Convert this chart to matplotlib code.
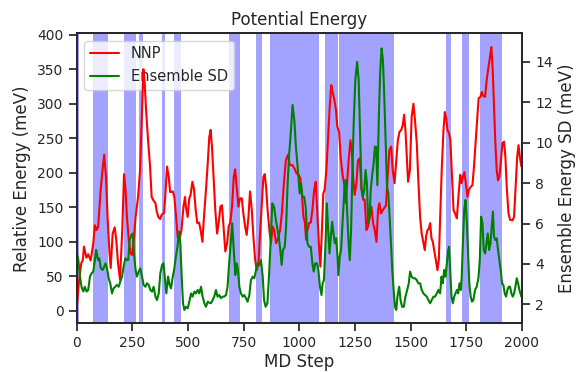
import numpy as np
import matplotlib
matplotlib.use("Agg")
import matplotlib.pyplot as plt
import seaborn as sns

# NNP relative energy (meV)
nnp_step = [0, 10, 21, 28, 33, 44, 52, 63, 75, 82, 90, 97, 108, 117, 124, 132, 139, 147, 153, 162,
            171, 178, 186, 195, 205, 213, 220, 226, 235, 243, 250, 258, 265, 276, 285, 292, 300, 306,
            312, 321, 330, 337, 345, 354, 360, 367, 375, 382, 393, 399, 406, 414, 420, 432, 439, 447,
            454, 462, 471, 480, 487, 491, 499, 506, 512, 520, 527, 535, 542, 550, 557, 565, 572, 581,
            589, 596, 602, 608, 616, 623, 631, 638, 646, 653, 661, 668, 676, 683, 691, 698, 706, 712,
            719, 727, 734, 742, 749, 757, 764, 772, 779, 787, 794, 802, 809, 817, 824, 832, 839, 845,
            851, 858, 866, 873, 881, 888, 896, 905, 914, 922, 931, 940, 949, 958, 970, 979, 988, 997,
            1005, 1013, 1019, 1025, 1031, 1037, 1044, 1052, 1059, 1067, 1074, 1082, 1089, 1095, 1102,
            1108, 1114, 1122, 1129, 1137, 1144, 1150, 1158, 1165, 1171, 1179, 1186, 1194, 1201, 1209,
            1215, 1222, 1230, 1236, 1242, 1249, 1257, 1264, 1272, 1279, 1287, 1294, 1302, 1309, 1317,
            1324, 1332, 1339, 1347, 1354, 1360, 1368, 1375, 1382, 1390, 1398, 1405, 1413, 1420, 1428,
            1435, 1443, 1450, 1458, 1465, 1471, 1477, 1483, 1489, 1497, 1505, 1513, 1520, 1528, 1535,
            1543, 1550, 1558, 1564, 1570, 1576, 1582, 1588, 1594, 1600, 1606, 1613, 1621, 1627, 1633,
            1640, 1648, 1654, 1660, 1666, 1673, 1679, 1685, 1693, 1700, 1708, 1715, 1723, 1729, 1735,
            1742, 1748, 1756, 1762, 1771, 1778, 1785, 1791, 1799, 1806, 1814, 1820, 1827, 1835, 1842,
            1850, 1857, 1863, 1869, 1875, 1881, 1887, 1893, 1899, 1905, 1913, 1920, 1926, 1932, 1940,
            1947, 1958, 1965, 1973, 1979, 1985, 1991, 1998]
nnp_energy = [1.5, 40, 69, 74, 93, 77, 82, 73, 98, 124, 117, 122, 175, 206, 226, 194, 136, 88, 62, 112,
              121, 103, 69, 45, 117, 198, 175, 136, 100, 83, 81, 107, 136, 165, 204, 271, 350, 329,
              291, 247, 209, 165, 160, 156, 144, 136, 133, 139, 142, 170, 209, 194, 172, 173, 165, 136,
              107, 103, 117, 151, 165, 150, 136, 163, 168, 187, 177, 146, 127, 128, 117, 100, 136, 175,
              214, 252, 262, 238, 189, 146, 112, 127, 151, 153, 117, 86, 98, 122, 129, 151, 194, 205,
              180, 151, 163, 163, 141, 122, 110, 136, 173, 146, 108, 74, 59, 69, 112, 156, 194, 198,
              180, 146, 117, 98, 122, 117, 98, 105, 117, 141, 185, 218, 226, 211, 211, 206, 199, 197,
              192, 165, 136, 129, 103, 117, 127, 128, 146, 175, 187, 136, 93, 64, 117,
              170, 175, 204, 247, 296, 327, 317, 305, 291, 267, 259, 223, 199, 185, 156,
              185, 218, 247, 233, 194, 168, 185, 218, 221, 180, 161, 161, 117, 122, 136,
              151, 127, 117, 100, 146, 156, 141, 146, 149, 153, 199, 233, 238, 204, 185,
              214, 247, 259, 262, 269, 284, 262, 223, 187, 204, 281, 300, 276, 243, 189,
              136, 112, 98, 88, 108, 117, 119, 127, 105, 100, 88, 74, 59, 74, 136,
              204, 262, 288, 279, 262, 257, 247, 204, 146, 141, 134, 165, 197, 185, 194,
              201, 185, 165, 175, 180, 182, 209, 238, 276, 308, 310, 317, 311, 310, 334,
              353, 368, 382, 349, 296, 243, 204, 189, 194, 214, 243, 245, 223, 180, 141,
              132, 131, 136, 185, 223, 240, 223, 209]

# ensemble standard deviation (meV)
sd_step = [0, 8, 15, 22, 30, 37, 45, 52, 60, 67, 75, 82, 88, 96, 102, 109, 117, 124, 130, 138, 144,
           151, 159, 166, 174, 181, 189, 196, 204, 211, 219, 226, 232, 238, 246, 253, 259, 265, 271,
           279, 286, 294, 301, 309, 316, 324, 331, 339, 346, 354, 361, 369, 376, 384, 390, 396, 403,
           411, 418, 424, 432, 438, 446, 453, 460, 466, 472, 478, 484, 491, 499, 506, 514, 521, 529,
           536, 544, 551, 559, 566, 574, 581, 589, 596, 603, 611, 618, 626, 633, 641, 648, 656, 663,
           671, 678, 684, 692, 699, 705, 713, 719, 725, 731, 738, 746, 753, 761, 768, 776, 783, 791,
           798, 806, 813, 821, 828, 836, 842, 849, 857, 864, 872, 879, 887, 893, 900, 908, 915, 921,
           927, 935, 941, 948, 955, 963, 970, 978, 985, 994, 1002, 1008, 1014, 1022, 1029, 1037,
           1044, 1052, 1059, 1065, 1072, 1080, 1086, 1093, 1100, 1105, 1111, 1118, 1124, 1130, 1136,
           1142, 1148, 1154, 1160, 1166, 1172, 1176, 1182, 1188, 1196, 1203, 1209, 1215, 1221, 1227,
           1233, 1239, 1245, 1252, 1260, 1267, 1273, 1280, 1286, 1292, 1298, 1304, 1310, 1316, 1321,
           1327, 1334, 1340, 1345, 1351, 1358, 1364, 1370, 1376, 1381, 1388, 1394, 1400, 1406, 1412,
           1418, 1424, 1430, 1436, 1441, 1449, 1455, 1462, 1470, 1477, 1485, 1492, 1498, 1505, 1513,
           1520, 1528, 1535, 1543, 1550, 1558, 1565, 1573, 1580, 1588, 1595, 1603, 1610, 1618, 1625,
           1633, 1639, 1645, 1651, 1657, 1663, 1669, 1673, 1678, 1684, 1690, 1696, 1702, 1708, 1714,
           1720, 1726, 1730, 1735, 1741, 1747, 1753, 1759, 1764, 1770, 1776, 1782, 1790, 1797, 1805,
           1811, 1817, 1823, 1829, 1835, 1841, 1847, 1853, 1859, 1865, 1870, 1875, 1881, 1887, 1893,
           1899, 1905, 1911, 1917, 1923, 1929, 1935, 1941, 1947, 1953, 1959, 1965, 1971, 1977, 1983,
           1989, 1998]
sd_value = [4.6, 4.19, 3.37, 2.87, 2.63, 2.87, 2.63, 2.71, 3.37, 3.53, 3.62, 4.19, 4.69, 4.19, 4.28,
            3.78, 3.70, 3.86, 4.03, 3.70, 3.29, 3.04, 2.54, 2.79, 2.87, 2.96, 2.87, 3.12, 3.37, 3.86,
            4.28, 4.19, 4.19, 5.18, 5.43, 5.51, 4.36, 3.70, 3.37, 3.62, 3.78, 3.37, 2.96, 2.87, 3.04,
            2.96, 2.71, 2.63, 2.87, 2.38, 2.21, 2.54, 3.53, 3.95, 4.03, 3.37, 2.54, 3.37, 2.96, 2.79,
            3.37, 3.70, 4.36, 4.85, 5.60, 5.02, 3.37, 2.05, 1.72, 1.88, 1.80, 2.13, 2.54, 2.38, 2.63,
            2.54, 2.71, 2.54, 2.87, 2.38, 2.05, 1.88, 2.13, 2.08, 2.05, 2.21, 2.38, 2.71, 2.38, 2.46,
            2.30, 2.38, 2.38, 2.46, 2.87, 3.86, 5.02, 6.01, 4.85, 3.45, 4.03, 3.70, 2.87, 2.54, 2.38,
            2.46, 2.30, 2.13, 2.46, 3.20, 3.37, 3.29, 3.70, 4.03, 3.95, 4.19, 3.37, 2.21, 1.88, 2.05,
            3.37, 5.18, 7.00, 6.83, 6.34, 5.84, 5.35, 4.69, 3.95, 4.69, 4.85, 5.84, 7.99, 9.48, 10.63,
            11.87, 11.13, 9.81, 8.65, 7.50, 7.99, 7.33, 7.33, 6.83, 5.02, 4.85, 4.85, 4.03, 3.62,
            4.03, 4.03, 3.70, 2.87, 2.46, 3.04, 3.20, 5.02, 7.00, 5.68, 4.52, 5.35, 6.09, 5.51, 5.02,
            5.27, 4.36, 3.45, 4.36, 4.69, 6.34, 7.66, 8.16, 6.67, 5.18, 4.19, 5.68, 8.65, 11.13,
            13.11, 14.01, 13.11, 10.63, 7.66, 7.33, 7.66, 8.65, 7.99, 6.01, 6.34, 7.66, 8.32, 8.98,
            9.81, 9.80, 7.90, 11.46, 13.60, 14.67, 14.10, 12.61, 10.14, 7.83, 7.50, 6.34, 5.02, 3.70, 2.71,
            1.88, 1.72, 2.38, 2.87, 2.21, 1.88, 1.88, 2.38, 2.71, 3.04, 3.62, 3.37, 3.29, 3.29, 3.20,
            3.04, 3.04, 2.71, 2.54, 2.46, 2.38, 2.21, 2.05, 2.21, 2.38, 2.38, 2.54, 2.71, 2.54, 3.37,
            3.04, 3.70, 3.37, 4.03, 4.69, 4.85, 3.70, 2.38, 2.05, 2.38, 2.54, 2.71, 2.54, 3.04, 2.71,
            3.37, 5.02, 6.67, 7.17, 6.01, 4.36, 3.04, 2.38, 2.13, 2.21, 2.71, 2.87, 3.29, 4.19, 6.34,
            6.01, 4.69, 4.52, 5.02, 5.51, 4.69, 5.02, 5.84, 6.59, 5.35, 5.18, 5.27, 4.69, 4.19, 3.70,
            3.04, 2.96, 2.54, 2.38, 2.71, 2.87, 2.87, 2.54, 2.38, 2.54, 2.87, 3.29, 3.04, 2.71, 2.38]

# MD steps flagged (shaded regions)
flag_start = [3, 74, 214, 282, 384, 439, 684, 805, 870, 1115, 1177, 1496, 1659, 1733, 1813]
flag_end = [12, 140, 268, 296, 397, 469, 734, 833, 1090, 1175, 1426, 1499, 1683, 1764, 1911]

sns.set_theme(style="ticks")
plt.rcParams["xtick.labelsize"] = 10
plt.rcParams["ytick.labelsize"] = 10
plt.rcParams["legend.fontsize"] = 10.5

fig, ax1 = plt.subplots(figsize=(5.76, 3.72), dpi=100)
fig.subplots_adjust(left=0.133, right=0.906, top=0.9105, bottom=0.1309)

for s, e in zip(flag_start, flag_end):
    ax1.axvspan(s, e, color="blue", alpha=0.36, lw=0, zorder=0.5)

l1, = ax1.plot(nnp_step, nnp_energy, color="red", lw=1.5, label="NNP", zorder=3)
ax1.set_xlim(0, 2000)
ax1.set_ylim(-18, 402)
ax1.set_xlabel("MD Step", labelpad=1.5)
ax1.set_ylabel("Relative Energy (meV)")
ax1.set_title("Potential Energy")

ax2 = ax1.twinx()
l2, = ax2.plot(sd_step, sd_value, color="green", lw=1.5, label="Ensemble SD")
ax2.set_ylim(1.06, 15.42)
ax2.set_ylabel("Ensemble Energy SD (meV)")

leg = ax1.legend([l1, l2], ["NNP", "Ensemble SD"], loc="upper left")
leg.set_zorder(1)

fig.savefig("out.png", dpi=100)
